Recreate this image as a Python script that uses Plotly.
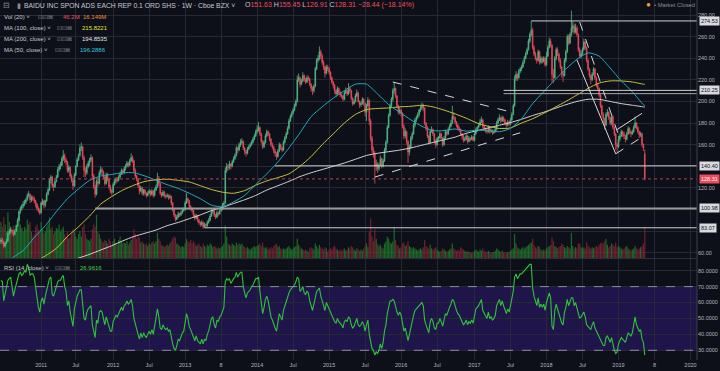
import pandas as pd
import plotly.graph_objects as go

START = "2010-06-18"  # first weekly bar (Friday)

# ---------------- weekly OHLC ----------------
open_2010 = [70,72,70,66,69,71,78,80,81,79,77,80,85,90,98,101,103,105,107,109,113,114,109,111,110,108,105,101,99]
high_2010 = [74,74,71,70,73,80,82,84,82,81,82,86,92,99,103,105,108,109,111,115,117,115,113,113,112,109,106,103,101]
low_2010 = [68,68,64,65,68,70,76,78,76,75,76,79,84,89,96,99,101,103,105,108,111,106,107,108,106,102,99,97,95]
close_2010 = [72,70,66,69,71,78,80,81,79,77,80,85,90,98,101,103,105,107,109,113,114,109,111,110,108,105,101,99,97]

open_2011 = [97,106,108,104,108,114,118,127,130,122,121,126,130,137,140,141,147,150,146,144,136,139,131,127,122,132,140,146,150,157,158,148,136,134,140,143,146,148,131,121,114,126,124,134,137,135,130,124,132,128,121,117]
high_2011 = [107,110,109,109,116,120,129,132,131,124,128,132,139,142,144,149,155,152,148,145,141,140,133,129,134,141,148,152,160,162,159,150,139,142,145,148,151,149,133,123,128,129,136,140,139,136,131,134,134,129,123,119]
low_2011 = [96,104,101,102,107,113,117,124,120,117,120,125,129,135,137,140,145,143,141,134,134,129,125,118,121,131,139,145,149,154,146,130,130,132,138,140,144,129,119,111,113,121,123,132,132,128,122,123,126,119,115,113]
close_2011 = [106,108,104,108,114,118,127,130,122,121,126,130,137,140,141,147,150,146,144,136,139,131,127,122,132,140,146,150,157,158,148,136,134,140,143,146,148,131,121,114,126,124,134,137,135,130,124,132,128,121,117,116]

open_2012 = [116,123,126,128,127,130,133,136,134,138,140,143,141,145,148,145,136,131,128,122,117,120,115,118,115,113,115,117,114,117,113,118,121,129,124,115,113,116,113,112,113,111,112,106,100,95,91,93,96,95,97,99]
high_2012 = [125,128,130,130,132,135,138,137,140,142,145,144,147,152,150,146,138,132,129,123,122,121,119,119,116,117,119,118,119,118,120,123,134,131,125,116,118,117,114,115,114,114,113,107,101,96,95,98,97,99,101,102]
low_2012 = [115,122,124,125,126,129,132,132,133,136,139,139,140,144,143,134,129,126,120,114,116,113,113,113,111,112,114,112,113,111,112,117,120,122,113,111,112,111,110,111,109,110,104,98,93,89,90,92,93,94,96,98]
close_2012 = [123,126,128,127,130,133,136,134,138,140,143,141,145,148,145,136,131,128,122,117,120,115,118,115,113,115,117,114,117,113,118,121,129,124,115,113,116,113,112,113,111,112,106,100,95,91,93,96,95,97,99,100]

open_2013 = [100,106,110,108,103,101,99,95,92,94,90,88,86,88,84,86,85,88,90,94,98,99,95,93,97,96,99,100,104,106,136,140,139,142,140,144,147,150,157,155,160,162,163,157,154,152,156,158,160,162,165,168]
high_2013 = [108,115,111,109,104,102,100,96,96,95,91,89,90,89,88,87,90,92,96,100,101,100,96,99,98,101,102,106,108,139,143,142,145,143,146,149,152,159,158,162,165,166,164,158,155,158,160,162,164,167,170,174]
low_2013 = [99,105,106,101,99,97,93,90,91,88,86,84,85,82,83,83,84,87,89,93,96,93,91,92,94,95,98,99,103,105,134,136,137,137,139,143,146,149,152,154,158,160,155,151,149,151,155,157,159,161,164,167]
close_2013 = [106,110,108,103,101,99,95,92,94,90,88,86,88,84,86,85,88,90,94,98,99,95,93,97,96,99,100,104,106,136,140,139,142,140,144,147,150,157,155,160,162,163,157,154,152,156,158,160,162,165,168,172]

open_2014 = [172,174,176,170,163,158,162,168,172,170,165,160,158,154,152,149,154,160,157,155,162,166,170,175,182,186,189,192,196,200,220,222,216,219,224,220,218,222,221,216,212,210,214,230,238,240,246,242,236,232,226,232]
high_2014 = [178,181,177,171,164,164,170,174,173,171,166,162,159,156,153,156,162,161,158,164,168,172,177,184,188,191,194,198,202,224,226,223,221,227,225,222,224,224,222,217,214,216,232,240,243,251,248,244,238,233,234,234]
low_2014 = [170,172,168,161,156,157,161,167,168,163,158,156,152,149,146,148,153,155,153,154,161,165,169,174,181,185,188,191,195,199,218,213,215,218,218,216,217,219,214,209,206,208,213,229,236,238,239,234,229,222,225,228]
close_2014 = [174,176,170,163,158,162,168,172,170,165,160,158,154,152,149,154,160,157,155,162,166,170,175,182,186,189,192,196,200,220,222,216,219,224,220,218,222,221,216,212,210,214,230,238,240,246,242,236,232,226,232,230]

open_2015 = [230,227,222,218,215,210,207,212,208,206,205,202,208,210,207,212,210,203,198,200,205,208,200,197,198,202,198,190,196,201,182,166,155,152,140,142,138,141,147,140,145,155,162,176,187,196,202,210,212,205,196,190]
high_2015 = [232,228,223,219,216,211,214,213,210,208,206,210,213,211,217,214,211,204,202,207,211,209,201,200,204,203,199,198,204,202,184,168,158,154,146,144,143,150,148,147,157,164,178,189,198,204,212,218,213,206,197,195]
low_2015 = [225,220,216,212,207,204,206,206,204,203,200,201,207,205,206,208,201,196,197,199,204,199,194,195,197,196,186,182,195,178,163,152,148,124,136,134,136,140,138,139,144,153,161,175,186,194,200,207,203,194,188,188]
close_2015 = [227,222,218,215,210,207,212,208,206,205,202,208,210,207,212,210,203,198,200,205,208,200,197,198,202,198,190,196,201,182,166,155,152,140,142,138,141,147,140,145,155,162,176,187,196,202,210,212,205,196,190,192]

open_2016 = [192,189,177,168,172,163,153,158,166,170,178,183,185,188,192,194,196,194,180,176,168,162,172,174,170,163,160,166,166,170,166,160,166,172,170,174,177,180,186,185,181,178,175,174,170,168,164,165,168,163,166,165,167]
high_2016 = [193,190,179,175,173,164,160,168,172,180,185,187,190,193,196,199,198,195,181,177,169,174,177,175,171,165,167,168,172,171,167,168,174,173,176,179,183,196,190,186,182,179,177,175,171,169,167,170,169,168,167,169,168]
low_2016 = [186,175,165,166,160,143,150,156,164,169,176,181,184,186,190,192,191,178,173,166,160,161,171,168,161,157,159,163,165,164,158,159,165,168,169,173,176,179,183,179,176,173,172,168,165,162,163,164,161,162,163,164,163]
close_2016 = [189,177,168,172,163,153,158,166,170,178,183,185,188,192,194,196,194,180,176,168,162,172,174,170,163,160,166,166,170,166,160,166,172,170,174,177,180,186,185,181,178,175,174,170,168,164,165,168,163,166,165,167,164]

open_2017 = [164,170,174,176,178,181,183,177,175,173,172,176,172,173,171,172,174,180,183,185,182,185,183,180,178,181,179,183,188,196,221,225,222,228,230,232,236,240,244,248,256,262,266,250,244,240,238,246,236,240,237,240]
high_2017 = [172,176,177,180,184,186,184,178,176,174,178,177,175,174,174,176,182,185,188,186,187,186,184,181,183,182,185,190,198,224,228,226,230,232,234,238,242,246,250,258,264,274.53,268,252,246,241,248,247,242,241,242,241]
low_2017 = [163,169,172,175,177,180,175,173,171,170,171,170,171,169,170,171,173,179,182,180,181,181,178,176,177,177,178,182,187,195,219,219,221,226,228,231,235,239,243,247,254,260,248,242,238,235,237,234,235,235,236,232]
close_2017 = [170,174,176,178,181,183,177,175,173,172,176,172,173,171,172,174,180,183,185,182,185,183,180,178,181,179,183,188,196,221,225,222,228,230,232,236,240,244,248,256,262,266,250,244,240,238,246,236,240,237,240,234]

open_2018 = [234,242,250,256,252,225,222,240,248,244,238,232,226,224,238,246,260,254,262,268,270,264,268,262,248,242,244,248,255,250,238,230,224,220,225,230,222,215,212,206,196,188,184,178,188,190,185,180,186,176,170,160]
high_2018 = [246,252,259,258,253,230,242,250,250,245,240,233,228,240,248,262,262,264,284,274,272,272,270,263,250,247,250,258,256,251,239,231,225,227,232,231,223,217,213,207,197,190,185,190,193,191,186,188,187,177,171,162]
low_2018 = [233,241,249,250,218,217,221,238,242,236,230,222,218,223,236,245,252,253,260,264,262,263,260,246,240,240,243,247,248,236,228,222,216,219,224,220,213,210,204,194,186,180,174,177,186,183,178,178,174,168,155,153]
close_2018 = [242,250,256,252,225,222,240,248,244,238,232,226,224,238,246,260,254,262,268,270,264,268,262,248,242,244,248,255,250,238,230,224,220,225,230,222,215,212,206,196,188,184,178,188,190,185,180,186,176,170,160,158]

open_2019 = [158,165,168,172,170,168,165,170,175,172,170,172,176,180,176,172,169,170,160,151.63]
high_2019 = [168,170,174,173,172,169,172,177,176,173,174,178,186,181,177,173,172,171,161,155.45]
low_2019 = [157,163,167,167,165,162,164,169,170,167,169,171,175,174,170,166,167,158,154,126.91]
close_2019 = [165,168,172,170,168,165,170,175,172,170,172,176,180,176,172,169,170,160,156.75,128.31]

# ---------------- weekly volume (relative bar heights, as read) ----------------
vol_2010 = [30,26,34,28,22,38,30,25,22,27,20,24,30,35,28,25,22,26,24,32,28,30,22,18,20,26,28,24,22]
vol_2011 = [30,24,20,22,26,28,34,24,26,20,22,25,24,28,22,24,26,20,18,22,16,18,20,24,22,18,16,20,22,18,26,28,20,16,15,14,16,24,28,26,36,22,20,16,14,13,15,14,12,16,14,10]
vol_2012 = [14,16,12,11,15,18,14,12,13,12,14,11,13,15,18,24,20,16,18,17,13,14,12,11,12,10,12,11,13,14,12,14,21,16,14,11,10,9,10,11,10,12,14,16,18,17,12,11,10,9,10,9]
vol_2013 = [12,16,14,13,15,12,14,12,10,11,12,10,9,12,10,9,11,10,12,11,9,10,9,8,9,8,9,10,12,27,18,12,11,10,12,11,10,13,11,12,11,12,10,9,8,9,8,7,8,9,10,9]
vol_2014 = [10,11,12,10,13,9,8,9,7,8,9,8,10,11,12,9,10,8,7,8,7,8,9,10,8,7,8,9,10,16,11,9,8,7,6,7,6,5,8,9,8,7,12,10,8,11,9,8,7,9,8,5]
vol_2015 = [7,8,7,9,10,8,7,6,7,6,7,8,6,7,9,8,10,9,7,6,8,7,6,7,6,8,10,12,9,22,33,18,14,24,16,12,10,11,9,8,12,14,18,16,13,12,14,26,15,11,10,8]
vol_2016 = [9,12,13,10,11,14,10,9,8,9,8,7,6,7,8,7,9,15,10,9,8,11,8,7,8,9,7,6,5,6,8,7,6,5,6,7,8,12,8,7,6,7,6,9,8,7,6,5,6,5,5,4,5]
vol_2017 = [6,7,6,5,7,6,8,6,5,5,6,5,4,5,5,6,8,7,6,5,6,5,5,4,5,5,6,7,8,20,12,9,8,7,8,9,8,9,10,11,12,13,16,11,9,8,10,9,7,6,7,6]
vol_2018 = [8,9,10,11,17,14,10,9,8,9,10,12,11,9,8,10,9,8,21,10,8,9,8,12,12,9,8,9,8,13,10,9,8,9,8,9,10,9,11,12,13,12,14,16,11,9,10,12,11,10,13,9]
vol_2019 = [10,9,8,7,8,9,10,8,7,6,7,8,10,8,7,8,9,10,12,26]

# ---------------- RSI(14) ----------------
rsi_2010 = [74,73,61,66,69,74,75,76,70,64,68,72,75,78,79,77,78,80,79,84,82,77,78,78,76,70,62,57,54]
rsi_2011 = [61,63,59,64,68,71,75,76,65,64,67,70,73,74,74,76,77,70,67,58,61,54,50,45,56,61,64,66,68,68,58,50,49,54,56,57,58,46,41,38,49,47,54,55,54,50,46,51,48,44,42,42]
rsi_2012 = [48,50,52,51,53,55,57,55,58,59,61,59,60,62,58,50,46,44,40,37,41,38,41,39,38,40,42,40,43,40,46,49,56,51,44,43,46,44,43,44,42,43,38,34,31,30,33,37,36,39,41,42]
rsi_2013 = [48,53,50,45,43,41,38,36,39,36,35,34,37,34,37,36,40,42,46,50,51,46,44,49,48,51,52,55,57,73,75,74,75,72,74,75,76,79,76,78,79,79,70,66,63,66,67,68,70,71,73,75]
rsi_2014 = [75,76,67,58,53,57,62,64,61,56,51,49,46,44,42,48,53,51,49,55,58,60,63,66,68,69,70,71,73,76,75,67,68,70,66,65,67,66,61,57,55,59,64,67,68,69,64,60,58,55,60,58]
rsi_2015 = [56,53,51,50,48,47,50,48,47,46,44,48,49,48,51,50,46,44,45,48,50,46,45,46,48,46,42,46,49,40,34,31,30,27,29,28,30,34,31,35,42,46,53,58,61,61,62,61,57,54,52,54]
rsi_2016 = [52,46,42,44,40,36,40,45,48,52,55,56,57,58,59,60,58,49,46,43,41,48,50,48,44,43,47,47,50,48,45,49,53,52,55,57,59,62,61,57,55,53,52,50,48,46,47,49,46,48,47,49,47]
rsi_2017 = [53,56,57,58,60,62,55,53,51,50,54,50,51,49,50,52,58,60,62,58,61,58,55,53,56,54,58,62,67,76,78,75,77,78,78,79,80,81,82,83,84,84,69,64,60,58,63,57,59,57,59,55]
rsi_2018 = [60,64,66,63,45,43,55,59,56,53,50,47,46,54,57,62,58,61,63,63,58,60,56,52,50,51,53,54,51,46,45,44,43,46,48,44,42,41,39,36,34,33,33,38,39,37,35,38,33,30,28,29]
rsi_2019 = [34,36,38,37,36,35,38,41,40,39,41,46,51,46,44,42,43,37,35,26.96]

# ---------------- moving averages, read every 8 weeks (+ last bar) ----------------
ma50 = [46,55,62,74,85,98,110,119,127,131,132.5,134,134,131,127,123,119.5,115,110,104,102.5,107,113,123,133,144,157,171,186,195,203,210,216,216,207,197,190,183,177,173,173,174.5,172.5,173.5,173,172,175,184,198,209,220,230,239,245,242,231,219,209,197,196.29]
ma100 = [33,39,45,51,57,64,75,84,94,105,112,118,122.5,126,127.5,128,127,125.5,122,118.5,116,115,117.5,122.5,126.5,129.5,133,140,149,160,170,180,188,192.5,193.5,194,195,195.5,196.5,195,192,188.5,184.5,180,177,175,175.5,180,184,189,194.5,200,206,212,217,219,219,218,216,215.82]
ma200 = [28,33,38,42,46,49,52,55,58.5,62.5,66.5,71,75,78,81,85,88,91.5,95,99,102,105.5,109,113,118,122,126,130.5,134,137,140,143,146.5,150,152,153.5,155,157,159.5,162,164.5,167,170.5,173,175.5,178,180.5,183.5,187,190,193.5,197,200,202,202,200,198,196.5,195,194.85]

# ---------------- drawn levels / trend lines ----------------
level_prices = [274.53, 210.25, 207.2, 140.40, 100.98, 83.07]
level_start = ["2017-10-20", "2017-06-02", "2017-06-02", "2014-04-04", "2011-10-07", "2013-04-12"]
level_labels = ["274.53", "210.25", None, "140.40", "100.98", "83.07"]
trend_lines = [  # (date0, price0, date1, price1, dash)
    ("2015-11-20", 218, "2017-07-14", 190, "dash"),
    ("2015-08-21", 130, "2017-08-25", 171, "dash"),
    ("2018-06-22", 273.5, "2019-01-04", 169, "dash"),
    ("2018-06-08", 238.5, "2018-12-21", 151.5, "solid"),
    ("2018-12-21", 151.5, "2019-05-03", 167, "dash"),
    ("2018-12-28", 174, "2019-05-03", 189, "solid"),
]
last_close = 128.31

x_tick_dates = ["2011-01-07","2011-07-01","2012-01-06","2012-07-06","2013-01-04","2013-07-05","2014-01-03",
                "2014-07-04","2015-01-02","2015-07-03","2016-01-01","2016-07-01","2017-01-06","2017-07-07",
                "2018-01-05","2018-07-06","2019-01-04","2019-07-05","2020-01-03"]
x_tick_text = ["2011","Jul","2012","Jul","2013","8","2014","Jul","2015","Jul","2016","Jul","2017","Jul",
               "2018","Jul","2019","8","2020"]
price_ticks = [60,80,100,120,140,160,180,200,220,240,260,280]
rsi_ticks = [30,40,50,60,70,80]

opens = open_2010+open_2011+open_2012+open_2013+open_2014+open_2015+open_2016+open_2017+open_2018+open_2019
highs = high_2010+high_2011+high_2012+high_2013+high_2014+high_2015+high_2016+high_2017+high_2018+high_2019
lows = low_2010+low_2011+low_2012+low_2013+low_2014+low_2015+low_2016+low_2017+low_2018+low_2019
closes = close_2010+close_2011+close_2012+close_2013+close_2014+close_2015+close_2016+close_2017+close_2018+close_2019
volume = vol_2010+vol_2011+vol_2012+vol_2013+vol_2014+vol_2015+vol_2016+vol_2017+vol_2018+vol_2019
rsi = rsi_2010+rsi_2011+rsi_2012+rsi_2013+rsi_2014+rsi_2015+rsi_2016+rsi_2017+rsi_2018+rsi_2019
n = len(closes)
assert len(opens) == len(highs) == len(lows) == len(volume) == len(rsi) == n

dates = pd.date_range(START, periods=n, freq="W-FRI")
ma_idx = list(range(0, n - 1, 8)) + [n - 1]
ma_dates = [dates[i] for i in ma_idx]
assert len(ma50) == len(ma100) == len(ma200) == len(ma_idx)

# ---------------- style ----------------
BG = "#0e1019"
GRID = "#262934"
UP = "#53b987"
DN = "#eb4d5c"
FONT = "Liberation Sans"
TXT = "#c5c8d2"
GRAY = "#8a8d96"
X_END = "2020-02-05"
X_START = "2010-06-13"
PW, PH = 697.0, 360.0  # plot area in px


def px(x):
    return x / PW


def py(y):
    return 1 - y / PH


fig = go.Figure()

vcol = ["rgba(32,125,42,0.8)" if c >= o else "rgba(130,38,54,0.8)" for o, c in zip(opens, closes)]
fig.add_trace(go.Bar(x=dates, y=volume, marker=dict(color=vcol, line=dict(width=0)), xaxis="x", yaxis="y"))

fig.add_trace(go.Candlestick(
    x=dates, open=opens, high=highs, low=lows, close=closes, xaxis="x", yaxis="y3",
    increasing=dict(line=dict(color=UP, width=0.8), fillcolor=UP),
    decreasing=dict(line=dict(color=DN, width=0.8), fillcolor=DN),
    whiskerwidth=0,
))

for vals, col in [(ma200, "#d2d2d2"), (ma100, "#c4c23c"), (ma50, "#22a9bb")]:
    fig.add_trace(go.Scatter(x=ma_dates, y=vals, mode="lines", xaxis="x", yaxis="y3",
                             line=dict(color=col, width=1, shape="spline", smoothing=0.6)))

fig.add_trace(go.Scatter(x=dates, y=rsi, mode="lines", xaxis="x", yaxis="y2",
                         line=dict(color="#2fc23d", width=1.1)))

shapes = []
shapes.append(dict(type="rect", xref="x domain", x0=0, x1=1, yref="y2", y0=30, y1=70,
                   fillcolor="#20154a", line=dict(width=0), layer="below"))
for lv in (30, 70):
    shapes.append(dict(type="line", xref="x domain", x0=0, x1=1, yref="y2", y0=lv, y1=lv,
                       line=dict(color="#8d8aa6", width=1, dash="dash")))
for p, d, lab in zip(level_prices, level_start, level_labels):
    thick = 100 < p < 101
    col = "#9a9a9a" if thick else "#d0d0d0"
    w = 2 if thick else 1
    if lab is None:
        col, w = "#a8a8a8", 1
    shapes.append(dict(type="line", xref="x", x0=d, x1=X_END, yref="y3", y0=p, y1=p,
                       line=dict(color=col, width=w)))
shapes.append(dict(type="line", xref="x domain", x0=0, x1=1, yref="y3", y0=last_close, y1=last_close,
                   line=dict(color="#b8404c", width=1, dash="dot")))
for d0, p0, d1, p1, ds in trend_lines:
    shapes.append(dict(type="line", xref="x", x0=d0, x1=d1, yref="y3", y0=p0, y1=p1,
                       line=dict(color="#d8d8d8", width=1, dash=ds)))
shapes.append(dict(type="line", xref="paper", x0=0, x1=1, yref="paper", y0=py(258.5), y1=py(258.5),
                   line=dict(color="#2c2f3a", width=1)))
shapes.append(dict(type="line", xref="paper", x0=1, x1=1, yref="paper", y0=0, y1=1,
                   line=dict(color="#3a3d48", width=1)))

ann = []


def text(x, y, s, color=TXT, size=6):
    ann.append(dict(xref="paper", yref="paper", x=px(x), y=py(y), text=s, showarrow=False,
                    xanchor="left", yanchor="middle", font=dict(family=FONT, size=size, color=color)))


R = '<span style="color:#eb4d5c">%s</span>'
text(1, 5.5, "⊟", GRAY, 7.5)
text(15, 5.5, "▮", GRAY, 6.5)
text(22, 5.5, "BAIDU INC SPON ADS EACH REP 0.1 ORD SHS · 1W · Cboe BZX ˅", TXT, 6.8)
text(243, 5.5, "O" + R % "151.63" + " H" + R % "155.45" + " L" + R % "126.91" + " C" + R % "128.31"
     + " " + R % "−28.44 (−18.14%)", TXT, 7)
ICONS = "⊡⊡⊠"
HS = 6
text(2, 16.7, "Vol (20) ˅", TXT, HS)
text(36, 16.7, ICONS, GRAY, HS)
text(61, 16.7, "46.2M", "#eb4d5c", HS)
text(81, 16.7, "16.149M", "#f0883e", HS)
text(2, 28, "MA (100, close) ˅", TXT, HS)
text(55, 28, ICONS, GRAY, HS)
text(80, 28, "215.8221", "#e2e233", HS)
text(2, 39, "MA (200, close) ˅", TXT, HS)
text(55, 39, ICONS, GRAY, HS)
text(80, 39, "194.8535", "#e6e6e6", HS)
text(2, 50, "MA (50, close) ˅", TXT, HS)
text(53, 50, ICONS, GRAY, HS)
text(78, 50, "196.2886", "#2ec8dc", HS)
text(2, 268, "RSI (14, close) ˅", TXT, HS)
text(53, 268, ICONS, GRAY, HS)
text(78, 268, "26.9616", "#3bd14b", HS)
text(644, 5, "●", "#f39c34", 8)
text(652, 5, "• Market Closed", GRAY, 5.8)

for p, lab in zip(level_prices, level_labels):
    if lab is None:
        continue
    ann.append(dict(xref="paper", x=1 + 1.5 / PW, yref="y3", y=p, text=lab, showarrow=False,
                    xanchor="left", yanchor="middle", bgcolor="#d9dadf", borderpad=1,
                    font=dict(family=FONT, size=5.5, color="#101218")))
ann.append(dict(xref="paper", x=1 + 1.5 / PW, yref="y3", y=last_close, text="128.31", showarrow=False,
                xanchor="left", yanchor="middle", bgcolor="#eb4d5c", borderpad=1,
                font=dict(family=FONT, size=5.5, color="#ffffff")))

price_text = ["" if t in (80, 100, 140) else "%.2f" % t for t in price_ticks]
rsi_text = ["%.4f" % t for t in rsi_ticks]
tickfont = dict(family=FONT, size=5.5, color="#b2b5be")

fig.update_layout(
    width=720, height=371, margin=dict(l=0, r=23, t=0, b=11),
    paper_bgcolor=BG, plot_bgcolor=BG, showlegend=False, hovermode=False, bargap=0.12,
    xaxis=dict(type="date", range=[X_START, X_END], anchor="y2", domain=[0, 1],
               tickmode="array", tickvals=x_tick_dates, ticktext=x_tick_text, tickfont=tickfont,
               showgrid=True, gridcolor=GRID, gridwidth=1, zeroline=False, showline=False, ticks="",
               rangeslider=dict(visible=False)),
    yaxis=dict(domain=[py(258), 1], range=[0, 215], visible=False, fixedrange=True),
    yaxis3=dict(overlaying="y", side="right", anchor="x", range=[55.1, 293.9], tickmode="array",
                tickvals=price_ticks, ticktext=price_text, tickfont=tickfont, showgrid=True,
                gridcolor=GRID, zeroline=False, ticks=""),
    yaxis2=dict(domain=[0, py(259)], range=[23.9, 87.35], side="right", anchor="x", tickmode="array",
                tickvals=rsi_ticks, ticktext=rsi_text, tickfont=tickfont, showgrid=True,
                gridcolor=GRID, zeroline=False, ticks=""),
    shapes=shapes, annotations=ann,
)

fig.write_html("out.html", config={"displayModeBar": False},
               post_script="document.body.style.margin='0';document.body.style.overflow='hidden';")
